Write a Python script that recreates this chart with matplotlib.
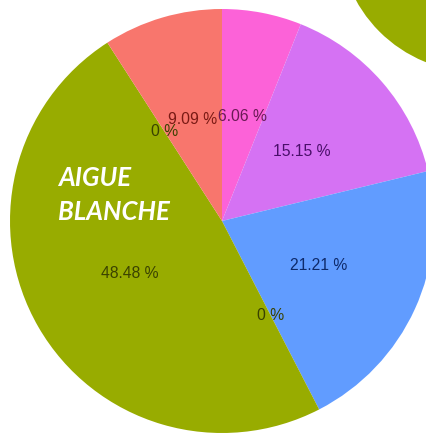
import matplotlib
matplotlib.use("Agg")
from matplotlib import pyplot as plt

# clockwise from 12 o'clock
shares = [6.06, 15.15, 21.21, 0, 48.48, 0, 9.09]
colors = ['#FC62D8', '#D572F3', '#619CFF', '#619CFF', '#98AC00', '#98AC00', '#F8766D']
label_colors = ['#6A1A55', '#4A0F6A', '#0E2A6A', '#3A4200', '#3A4200', '#3A4200', '#7A1A14']
title = "AIGUE\nBLANCHE"

# neighbouring pie, only its olive part shows in the corner
other_shares = [100]
other_colors = ['#98AC00']

W, H = 426, 433

fig = plt.figure(figsize=(W / 100, H / 100), dpi=100)
ax = fig.add_axes([0, 0, 1, 1])


def pct(p):
    return '0 %' if p < 0.01 else '%.2f %%' % p


wedges, texts, autotexts = ax.pie(shares, colors=colors, startangle=90, counterclock=False,
                                  center=(222, H - 221), radius=212, autopct=pct,
                                  pctdistance=0.5, wedgeprops=dict(linewidth=0),
                                  textprops=dict(family='Liberation Sans', fontsize=11.3))
for t, c in zip(autotexts, label_colors):
    t.set_color(c)

ax.pie(other_shares, colors=other_colors, center=(477, H + 66), radius=138,
       wedgeprops=dict(linewidth=0))

ax.text(58, H - 220, title, color='white', fontsize=18.5, fontweight='bold', style='italic',
        family='Lato', ha='left', va='baseline', linespacing=1.5)

ax.set_xlim(0, W)
ax.set_ylim(0, H)
ax.set_aspect('equal')
ax.axis('off')

fig.savefig('out.png', dpi=100)
